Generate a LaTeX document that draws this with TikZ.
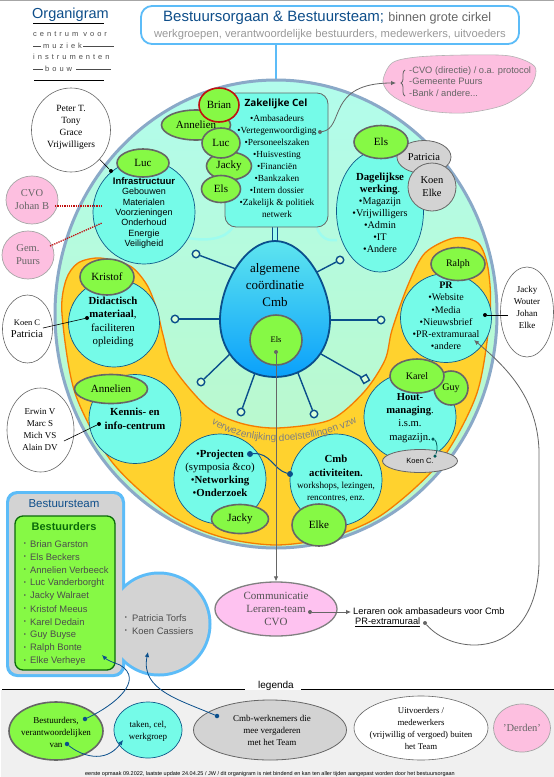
\documentclass[tikz,border=0pt]{standalone}
\usepackage{fontspec}
\setmainfont{Liberation Serif}
\setsansfont{Liberation Sans}
\newfontfamily\cellfont{Open Sans}
\newfontfamily\spatiefont[LetterSpace=40]{Liberation Sans}
\usetikzlibrary{shapes.geometric,arrows.meta,decorations.text,decorations.pathreplacing}
\definecolor{celcyan}{HTML}{75FBE8}
\definecolor{celblauw}{HTML}{0F5A8A}
\definecolor{naamgroen}{HTML}{86F945}
\definecolor{randgrijs}{HTML}{666666}
\definecolor{lichtgrijs}{HTML}{D3D3D3}
\definecolor{roze}{HTML}{FDBFE0}
\definecolor{hemel}{HTML}{5CBCF8}
\definecolor{titelblauw}{HTML}{0E4E8A}
\definecolor{eidonker}{HTML}{0A4F8C}
\definecolor{rood}{HTML}{C01010}
\definecolor{geel}{HTML}{FFD22E}
\definecolor{oranje}{HTML}{F57C00}
\definecolor{tekstgrijs}{HTML}{666666}
\definecolor{donkergroen}{HTML}{0A6A0A}
\definecolor{rand}{HTML}{8AA9C8}
\definecolor{mint}{HTML}{B2FCEC}
\definecolor{lichtgroen}{HTML}{BCF8C4}
\definecolor{eitop}{HTML}{5EE5EF}
\definecolor{eibodem}{HTML}{0AA0FB}
\tikzset{
  wh/.style 2 args={minimum width=#1pt,minimum height=#2pt},
  bub/.style={ellipse,inner sep=0pt,draw,align=center},
  cel/.style={bub,fill=celcyan,draw=celblauw,line width=.7pt},
  naam/.style={bub,fill=naamgroen,draw=randgrijs,line width=1.6pt,font=\fontsize{11}{13}\selectfont},
  grijs/.style={bub,fill=lichtgrijs,draw=randgrijs,line width=.8pt,font=\fontsize{10.5}{13}\selectfont},
  extern/.style={bub,fill=white,draw=randgrijs,line width=.6pt},
  derde/.style={bub,fill=roze,draw=gray!70,line width=.7pt,text=tekstgrijs,font=\fontsize{10.5}{13}\selectfont},
  txt/.style={inner sep=0pt,align=center,font=\fontsize{9}{12}\selectfont},
  sans/.style={inner sep=0pt,align=left,anchor=west,font=\sffamily\fontsize{9.3}{13}\selectfont},
  spaak/.style={circle,draw=eidonker,fill=green!15!white,line width=1.4pt,minimum size=7.5pt,inner sep=0pt},
  spaaklijn/.style={draw=eidonker,line width=1.4pt},
  stip/.style={circle,fill=black,minimum size=4pt,inner sep=0pt},
  blauwstip/.style={circle,fill=eidonker,minimum size=4.5pt,inner sep=0pt},
  grijsstip/.style={circle,fill=randgrijs,minimum size=4pt,inner sep=0pt},
  pijl/.style={-{Latex[length=5pt,width=4.5pt]},line width=.8pt},
}
\begin{document}
\begin{tikzpicture}[x=1pt,y=-1pt]
\useasboundingbox (0,0) rectangle (554,777);
\fill[white] (0,0) rectangle (554,777);
\fill[gray!70] (0,0) rectangle (554,1);
% grote cirkel
\draw[hemel,line width=2.5pt] (276,44) -- (276,84);
\node[bub,wh={442}{468},draw=rand,line width=3pt,top color=mint,bottom color=lichtgroen] (cirkel) at (276,314) {};
\draw[oranje,line width=1.3pt,fill=geel] plot[smooth cycle] coordinates {(100,258) (130,266) (147,285) (157,310) (163,335) (173,367) (207,407) (240,423) (277,428) (330,420) (364,392) (385,360) (392,330) (408,285) (425,253) (454,238) (478,243) (488,268) (490,314) (477,393) (440,462) (383,514) (331,537) (276,545) (221,537) (169,514) (112,462) (75,393) (62,314) (66,280) (78,263)};
% aansluiting cel
\draw[celcyan!70!white,line width=2.5pt] (233,227) .. controls (225,240) and (205,241) .. (188,238);
\draw[celcyan!70!white,line width=2.5pt] (317,228) .. controls (322,240) and (330,241) .. (337,240);
\fill[celcyan!70!white] (272,226) rectangle (277,244);
\draw[eidonker,line width=.8pt] (272,227) -- (272,242) (277,227) -- (277,242);
% spaken
\foreach \i/\ex/\ey/\sx/\sy in {1/236/269/196/254, 2/317/272/340/260, 3/220/319/175/319, 4/330/320/381/320, 5/230/354/201/382, 6/255/373/241/412, 7/298/373/314/414} {
  \coordinate (eind\i) at (\ex,\ey);
  \node[spaak] (sp\i) at (\sx,\sy) {};
  \draw[spaaklijn] (eind\i) -- (sp\i);
}
\coordinate (eind8) at (321,354);
\node[spaak,rectangle,rotate=30,minimum size=6.5pt] (sp8) at (365,379) {};
\draw[spaaklijn] (eind8) -- (sp8);
% ei
\draw[draw=eidonker,line width=1.8pt,top color=eitop,bottom color=eibodem] (275,241) .. controls (245,241) and (220,285) .. (220,320) .. controls (220,355) and (245,377) .. (275,377) .. controls (305,377) and (330,355) .. (330,320) .. controls (330,285) and (305,241) .. (275,241) -- cycle;
\node[txt,font=\fontsize{13}{17}\selectfont] (eitxt) at (275,285) {algemene\\coördinatie\\Cmb};
\node[naam,wh={52}{50},font=\fontsize{8.5}{12}\selectfont] (elsmid) at (276,340) {Els};
% zakelijke cel
\node[draw=randgrijs,line width=.8pt,fill=celcyan,rounded corners=11pt,minimum width=103pt,minimum height=134pt,inner sep=0pt] (zak) at (276.5,160) {};
\node[txt,font=\cellfont\bfseries\fontsize{10}{12}\selectfont] (zaktitel) at (276,104) {Zakelijke Cel};
\node[txt,font=\fontsize{9.3}{12}\selectfont] (zaktxt) at (277,166.500) {•Ambasadeurs\\•Vertegenwoordiging\\•Personeelszaken\\•Huisvesting\\•Financiën\\•Bankzaken\\•Intern dossier\\•Zakelijk \& politiek\\netwerk};
\node[naam,wh={69}{30}] (annelien) at (196,125) {Annelien};
\node[naam,wh={40}{34},draw=rood] (brian) at (219,105) {Brian};
\node[naam,wh={45}{28}] (jacky) at (229,166) {Jacky};
\node[naam,wh={38}{30}] (luc) at (221,143) {Luc};
\node[naam,wh={39}{27}] (els) at (221,189) {Els};
% cellen
\node[cel,wh={102}{104}] (infra) at (144,212) {};
\node[naam,wh={52}{28}] (lucinfra) at (143,163) {Luc};
\node[txt,font=\sffamily\fontsize{9}{10.3}\selectfont] (infratxt) at (144,213) {\textbf{\fontsize{9.5}{10.3}\selectfont Infrastructuur}\\Gebouwen\\Materialen\\Voorzieningen\\Onderhoud\\Energie\\Veiligheid};
\node[cel,wh={87}{122}] (dagelijks) at (380,211) {};
\node[grijs,wh={54}{33}] (patricia) at (424,157) {Patricia};
\node[grijs,wh={48}{48}] (koenelke) at (432,187) {Koen\\Elke};
\node[naam,wh={54}{33}] (elsdag) at (381,142) {Els};
\node[txt,font=\fontsize{10.2}{12}\selectfont] (dagtxt) at (380,212.500) {\textbf{\fontsize{10.8}{12}\selectfont Dagelijkse}\\\textbf{\fontsize{10.8}{12}\selectfont werking}.\\•Magazijn\\•Vrijwilligers\\•Admin\\•IT\\•Andere};
\node[cel,wh={91}{88}] (didactisch) at (114,323) {};
\node[naam,wh={54}{36}] (kristof) at (107,277) {Kristof};
\node[txt,font=\fontsize{10.8}{13.3}\selectfont] (didtxt) at (113,322) {\textbf{Didactisch}\\\textbf{materiaal},\\faciliteren\\opleiding};
\node[cel,wh={92}{89}] (kennis) at (135,419) {};
\node[naam,wh={73}{29}] (anneliendid) at (111,389) {Annelien};
\node[txt,font=\bfseries\fontsize{10.8}{14}\selectfont] (kentxt) at (135,419) {Kennis- en\\info-centrum};
\node[cel,wh={92}{90}] (projecten) at (220,479) {};
\node[naam,wh={57}{29}] (jackypro) at (240,519) {Jacky};
\node[txt,font=\fontsize{10.8}{13}\selectfont] (protxt) at (220,473.500) {•\textbf{Projecten}\\(symposia \&co)\\•\textbf{Networking}\\•\textbf{Onderzoek}};
\node[cel,wh={92}{92}] (activ) at (336,480) {};
\node[naam,wh={54}{42}] (elke) at (319,525) {Elke};
\node[txt,font=\bfseries\fontsize{10.8}{13.5}\selectfont] (acttxt) at (336,466) {Cmb\\activiteiten.};
\node[txt,font=\fontsize{9.2}{12}\selectfont] (acttxt2) at (336,492) {workshops, lezingen,\\rencontres, enz.};
\node[cel,wh={92}{88}] (hout) at (410,417) {};
\node[grijs,wh={75}{23},font=\sffamily\fontsize{7.5}{9}\selectfont] (koenc) at (420,461) {Koen C.};
\node[naam,wh={34}{34},font=\fontsize{10}{13}\selectfont] (guy) at (451,388) {Guy};
\node[naam,wh={54}{34},font=\fontsize{10}{13}\selectfont] (karel) at (417,376) {Karel};
\node[txt,font=\fontsize{10.6}{13.3}\selectfont] (houttxt) at (410,418) {\textbf{Hout-}\\\textbf{managing}.\\i.s.m.\\magazijn.};
\node[cel,wh={91}{89}] (pr) at (446,318) {};
\node[naam,wh={54}{33},font=\fontsize{10}{13}\selectfont] (ralph) at (458,264) {Ralph};
\node[txt,font=\fontsize{10}{12.3}\selectfont] (prtxt) at (446,316) {\textbf{PR}\\•Website\\•Media\\•Nieuwsbrief\\•PR-extramuraal\\•andere};
\path[decorate,decoration={text along path,text align=center,text={|\sffamily\fontsize{10}{10}\selectfont\color{gray}|verwezenlijking doelstellingen vzw}}] (205,419) .. controls (245,450) and (315,447) .. (364,418);
% buiten de cirkel
\node[extern,wh={79}{84}] (peter) at (71,130) {};
\node[txt,font=\fontsize{9.5}{12}\selectfont] (petertxt) at (71,127) {Peter T.\\Tony\\Grace\\Vrijwilligers};
\node[stip] (stipinfra) at (111,171) {};
\draw[line width=.6pt] (peter) -- (stipinfra);
\node[extern,wh={50}{68}] (koen) at (27.500,329) {};
\node[txt,font=\fontsize{8.5}{12}\selectfont] (koentxt) at (27,329) {Koen C\\{\fontsize{10.5}{12}\selectfont Patricia}};
\node[stip] (stipdid) at (87,318) {};
\coordinate (koenvan) at (43,328);
\draw[line width=.6pt] (koenvan) -- (stipdid);
\node[extern,wh={67}{84}] (erwin) at (40.500,430) {};
\node[txt] (erwintxt) at (40,430) {Erwin V\\Marc S\\Mich VS\\Alain DV};
\node[stip] (stipken) at (99,424) {};
\coordinate (erwinvan) at (64,441);
\draw[line width=.6pt] (erwinvan) -- (stipken);
\node[extern,wh={53}{90}] (wouter) at (527,312) {};
\node[txt] (woutertxt) at (527,307) {Jacky\\Wouter\\Johan\\Elke};
\node[stip] (stippr) at (485,315) {};
\coordinate (woutervan) at (508,315);
\draw[line width=.6pt] (woutervan) -- (stippr);
\node[derde,wh={52}{48}] (cvo) at (32,200) {CVO\\Johan B};
\node[derde,wh={52}{48}] (gem) at (28,255) {Gem.\\Puurs};
\coordinate (cvonaar) at (102,206);
\coordinate (gemnaar) at (102,223);
\coordinate (cvovan) at (55,206);
\coordinate (gemvan) at (50,246);
\draw[rood,line width=1.3pt,densely dotted] (cvovan) -- (cvonaar);
\draw[rood,line width=1.3pt,densely dotted] (gemvan) -- (gemnaar);
% blauwe lijnen
\node[blauwstip,minimum size=6pt] (stippro) at (250,454) {};
\node[blauwstip,minimum size=6pt] (stipact) at (290,474) {};
\draw[eidonker,line width=1pt] (stippro) .. controls (270,452) and (274,470) .. (stipact);
\node[circle,fill=teal!70!black,minimum size=3.5pt,inner sep=0pt] (stipmag) at (433,439) {};
\node[circle,fill=teal!70!black,minimum size=3.5pt,inner sep=0pt] (stipkoen) at (435,456) {};
\draw[teal!70!black,line width=.8pt] (stipmag) .. controls (437,441) and (438,450) .. (stipkoen);
% titel
\node[draw=hemel,line width=1.8pt,fill=white,rounded corners=11pt,minimum width=378pt,minimum height=38pt,inner sep=0pt] (kop) at (330,25) {};
\node[txt,anchor=west,font=\sffamily\fontsize{15}{16}\selectfont,text=titelblauw] (koptxt) at (163,18) {Bestuursorgaan \& Bestuursteam; \textcolor{tekstgrijs}{\fontsize{12.6}{16}\selectfont binnen grote cirkel}};
\node[txt,font=\sffamily\fontsize{11.2}{12}\selectfont,text=gray!80] (koptxt2) at (330,35) {werkgroepen, verantwoordelijke bestuurders, medewerkers, uitvoeders};
\node[txt,anchor=west,font=\sffamily\fontsize{14.5}{16}\selectfont,text=titelblauw] (organigram) at (32,15) {Organigram};
\draw[line width=.6pt] (33,23) -- (104,23);
\node[txt,anchor=west,font=\spatiefont\fontsize{7.5}{9}\selectfont,text=black!70] (centrum) at (33,34) {centrum voor};
\node[txt,anchor=west,font=\spatiefont\fontsize{7.5}{9}\selectfont,text=black!70] (muziek) at (43,46) {muziek};
\node[txt,anchor=west,font=\spatiefont\fontsize{7.5}{9}\selectfont,text=black!70] (instrumenten) at (33,57) {instrumenten};
\node[txt,anchor=west,font=\spatiefont\fontsize{7.5}{9}\selectfont,text=black!70] (bouw) at (45,69) {bouw};
\draw[black!70,line width=.6pt] (33,46) -- (41,46) (83,46) -- (114,46) (33,69) -- (43,69) (76,69) -- (111,69);
\draw[line width=.6pt] (34,80) -- (104,80);
% roze ballon
\draw[fill=roze,draw=gray!60,line width=.6pt] plot[smooth cycle] coordinates {(383,82) (392,63) (417,57) (464,55) (510,56) (535,67) (530,87) (504,105) (464,113) (424,110) (394,97)};
\node[sans,text=tekstgrijs,font=\sffamily\fontsize{9.3}{11.7}\selectfont] (ballontxt) at (409,81.500) {-CVO (directie) / o.a. protocol\\-Gemeente Puurs\\-Bank / andere...};
\draw[randgrijs,line width=.8pt,decorate,decoration={brace,amplitude=4pt}] (405,96) -- (405,70);
\node[grijsstip] (stipzak) at (320,132) {};
\coordinate (ballonpunt) at (396,83);
\draw[randgrijs,line width=.6pt,pijl] (stipzak) .. controls (345,128) and (326,83) .. (ballonpunt);
% bestuursteam
\fill[hemel] (159,624) circle[radius=52.500];
\fill[hemel,rounded corners=11pt] (6,491) rectangle (125,677);
\fill[lichtgrijs] (159,624) circle[radius=49.500];
\node[fill=lichtgrijs,rounded corners=9pt,minimum width=113pt,minimum height=180pt,inner sep=0pt] (team) at (65.500,584) {};
\node[fill=naamgroen,draw=donkergroen,line width=1.3pt,rounded corners=8pt,minimum width=100pt,minimum height=154pt,inner sep=0pt] (bestuurders) at (65,593) {};
\node[txt,font=\sffamily\fontsize{11.5}{13}\selectfont,text=titelblauw] (teamtitel) at (64,504) {Bestuursteam};
\node[txt,font=\sffamily\bfseries\fontsize{11}{13}\selectfont,text=donkergroen] (besttitel) at (64,527) {Bestuurders};
\foreach \i/\naam in {0/Brian Garston,1/Els Beckers,2/Annelien Verbeeck,3/Luc Vanderborght,4/Jacky Walraet,5/Kristof Meeus,6/Karel Dedain,7/Guy Buyse,8/Ralph Bonte,9/Elke Verheye} {
  \node[sans,text=black!70,font=\sffamily\fontsize{9.4}{11}\selectfont] (lid\i) at (30,544+13*\i) {\naam};
  \node[txt,text=black!70,font=\sffamily\fontsize{6}{6}\selectfont] (bul\i) at (25,544+13*\i) {•};
}
\node[sans,text=black!70,font=\sffamily\fontsize{9.4}{11}\selectfont] (torfs) at (132,618) {Patricia Torfs};
\node[sans,text=black!70,font=\sffamily\fontsize{9.4}{11}\selectfont] (cassiers) at (132,631) {Koen Cassiers};
\node[txt,text=black!70,font=\sffamily\fontsize{6}{6}\selectfont] (bultorfs) at (126,618) {•};
\node[txt,text=black!70,font=\sffamily\fontsize{6}{6}\selectfont] (bulcass) at (126,631) {•};
% communicatie
\node[stip,fill=randgrijs] (stipels) at (276,352) {};
\node[bub,wh={122}{54},fill=roze!80!magenta!60!white,draw=gray,line width=1.3pt] (comm) at (276,609) {};
\draw[randgrijs,line width=.8pt,pijl] (stipels) -- (comm.north);
\node[txt,text=tekstgrijs!80!black,font=\fontsize{11}{13}\selectfont] (commtxt) at (276,609) {Communicatie\\Leraren-team\\CVO};
\node[grijsstip] (stipcomm) at (310,612) {};
\coordinate (lerarenpunt) at (351,612);
\draw[randgrijs,line width=.8pt,pijl] (stipcomm) -- (lerarenpunt);
\node[sans] (leraren) at (353,611) {Leraren ook ambasadeurs voor Cmb};
\node[sans] (prextra) at (355,622) {\underline{PR-extramuraal}};
\node[grijsstip] (stipextra) at (425,623) {};
\coordinate (prpunt) at (474,340);
\draw[randgrijs,line width=.6pt,pijl] (stipextra) .. controls (440,640) and (460,645) .. (474,645) .. controls (515,645) and (539,610) .. (539,560) -- (539,450) .. controls (537,400) and (510,370) .. (prpunt);
% legenda
\fill[black!6] (1,690) rectangle (554,777);
\draw[line width=.7pt] (2,689.500) -- (245,689.500) (301,689.500) -- (554,689.500);
\node[txt,font=\sffamily\fontsize{10}{12}\selectfont] (legenda) at (276,686) {legenda};
\node[naam,wh={94}{58}] (leggroen) at (56,731) {};
\node[txt,font=\fontsize{9}{12}\selectfont] (leggroentxt) at (56,732) {Bestuurders,\\verantwoordelijken\\van};
\node[cel,wh={68}{56}] (legcel) at (148,730) {};
\node[txt] (legceltxt) at (148,731) {taken, cel,\\werkgroep};
\node[grijs,wh={153}{60}] (leggrijs) at (270,730) {};
\node[txt] (leggrijstxt) at (272,730) {Cmb-werknemers die\\mee vergaderen\\met het Team};
\node[extern,wh={134}{64}] (legwit) at (421,728) {};
\node[txt,font=\fontsize{8.8}{12.3}\selectfont] (legwittxt) at (421,728.500) {Uitvoerders /\\medewerkers\\(vrijwillig of vergoed) buiten\\het Team};
\node[derde,wh={57}{48},font=\fontsize{10.5}{13}\selectfont] (legderde) at (522,728) {'Derden'};
\node[txt,font=\sffamily\fontsize{5.5}{7}\selectfont] (voet) at (270,774) {eerste opmaak 09.2022, laatste update 24.04.25 / JW / dit organigram is niet bindend en kan ten aller tijden aangepast worden door het bestuursorgaan};
% legenda pijlen
\node[blauwstip] (stip1) at (85,719) {};
\node[blauwstip] (stip2) at (67,744) {};
\node[blauwstip] (stip3) at (217,716) {};
\coordinate (pt1) at (102,655);
\coordinate (pt2) at (123,740);
\coordinate (pt3) at (148,652);
\draw[eidonker,line width=.7pt,pijl] (stip1) .. controls (115,705) and (145,680) .. (120,665) .. controls (112,662) and (107,660) .. (pt1);
\draw[eidonker,line width=.7pt,pijl] (stip2) .. controls (80,755) and (105,765) .. (pt2);
\draw[eidonker,line width=.7pt,pijl] (stip3) .. controls (180,700) and (140,690) .. (pt3);
\end{tikzpicture}
\end{document}
